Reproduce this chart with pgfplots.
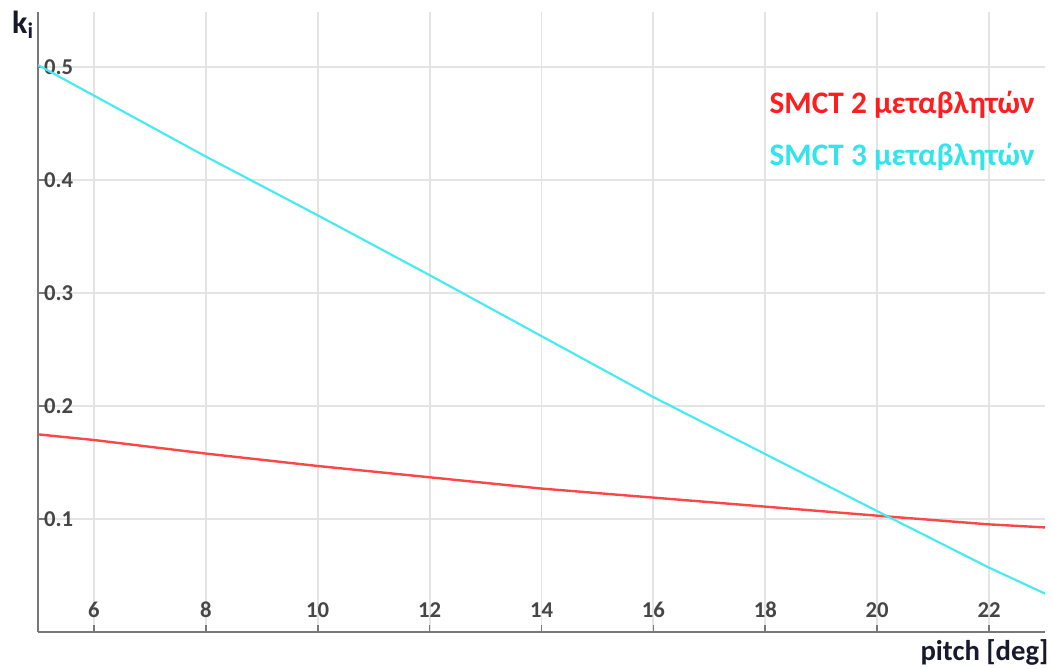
\documentclass[border=0pt]{standalone}
\usepackage{pgfplots}
\pgfplotsset{compat=1.18}
\usepackage{fontspec}
\setmainfont{Carlito}
\definecolor{lred}{RGB}{255,70,70}
\definecolor{tred}{RGB}{255,30,30}
\definecolor{lcyan}{RGB}{70,235,240}
\definecolor{tcyan}{RGB}{50,228,235}
\definecolor{gridc}{RGB}{228,228,228}
\definecolor{axc}{RGB}{120,120,120}
\definecolor{tickc}{RGB}{70,70,70}
\begin{document}
\begin{tikzpicture}
\useasboundingbox (-28.5pt,-27pt) rectangle (761.25pt,474pt);
\begin{axis}[
  at={(0,0)}, anchor=south west,
  scale only axis,
  width=755.25pt, height=465pt,
  xmin=5, xmax=23, ymin=0, ymax=0.549,
  axis x line=bottom, axis y line=left,
  axis line style={-, draw=axc, line width=1.2pt},
  xtick={6,8,10,12,14,16,18,20,22},
  ytick={0.1,0.2,0.3,0.4,0.5},
  yticklabels={0.1,0.2,0.3,0.4,0.5},
  tick align=inside,
  major tick length=5.5pt,
  tick style={draw=axc, line width=1.2pt},
  grid=major,
  major grid style={draw=gridc, line width=1.4pt},
  /pgf/number format/assume math mode=true,
  ticklabel style={font=\fontsize{17}{20}\selectfont\bfseries, text=tickc},
  yticklabel style={anchor=west, xshift=1pt},
  xticklabel style={anchor=base, yshift=11pt},
  clip=true,
]
\addplot[lred, line width=1.8pt] coordinates {
 (5,0.175) (6,0.170) (8,0.158) (10,0.147) (12,0.137) (14,0.127) (16,0.119) (18,0.111) (20,0.103) (22,0.0953) (23,0.0926)};
\addplot[lcyan, line width=1.6pt] coordinates {
 (5,0.502) (8,0.421) (10,0.369) (12,0.316) (16,0.208) (20.2,0.102) (22,0.057) (23,0.034)};
\node[anchor=base east, text=tred, inner sep=0pt, font=\fontsize{23.5}{26}\selectfont\bfseries] at (axis cs:22.82,0.4593) {SMCT 2 μεταβλητών};
\node[anchor=base east, text=tcyan, inner sep=0pt, font=\fontsize{23.5}{26}\selectfont\bfseries] at (axis cs:22.82,0.4133) {SMCT 3 μεταβλητών};
\end{axis}
\node[anchor=north east, inner sep=0pt, font=\fontsize{21.5}{24}\selectfont\bfseries, text={rgb,255:red,25;green,25;blue,45}] at (758pt,-5.5pt) {pitch [deg]};
\node[anchor=north east, inner sep=0pt, font=\fontsize{24}{26}\selectfont\bfseries, text={rgb,255:red,25;green,25;blue,45}] at (-3pt,466pt) {k\textsubscript{i}};
\end{tikzpicture}
\end{document}
